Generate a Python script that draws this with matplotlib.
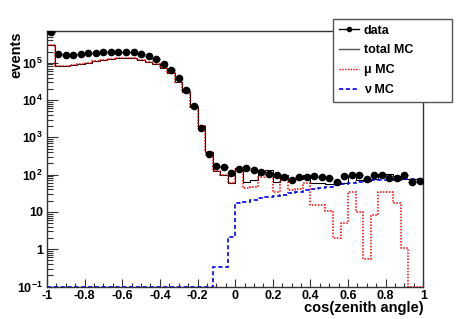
import numpy as np
import matplotlib
matplotlib.use('Agg')
import matplotlib.pyplot as plt
from matplotlib.lines import Line2D
from matplotlib.ticker import FixedLocator, FixedFormatter, MultipleLocator, LogLocator, NullFormatter

# ---------------- data ----------------
bin_edges = np.linspace(-1.0, 1.0, 51)

data = [6.6e5, 1.7e5, 1.6e5, 1.6e5, 1.68e5, 1.78e5, 1.85e5, 1.95e5, 2.0e5, 2.0e5,
        2.0e5, 1.9e5, 1.74e5, 1.48e5, 1.23e5, 9.4e4, 6.5e4, 3.8e4, 1.86e4, 6.9e3,
        1.74e3, 365, 174, 159, 114, 142, 154, 135, 118, 105,
        96, 88, 71, 87, 88, 92, 86, 79, 65, 90,
        95, 95, 74, 96, 99, 79, 79, 95, 64, 68]

total_mc = [3.0e5, 8.0e4, 8.2e4, 8.5e4, 9.0e4, 1.0e5, 1.08e5, 1.17e5, 1.25e5, 1.3e5,
            1.33e5, 1.3e5, 1.18e5, 1.07e5, 9.0e4, 7.4e4, 5.2e4, 3.1e4, 1.66e4, 6.6e3,
            2.0e3, 400, 127, 97, 60, 150, 65, 72, 118, 133,
            62, 98, 68, 78, 95, 59, 59, 55, 55, 61,
            92, 70, 68, 76, 105, 106, 90, 75, 74, 75]

mu_mc = [3.0e5, 8.0e4, 8.2e4, 8.5e4, 9.0e4, 1.0e5, 1.08e5, 1.17e5, 1.25e5, 1.3e5,
         1.33e5, 1.3e5, 1.18e5, 1.07e5, 9.0e4, 7.4e4, 5.2e4, 3.1e4, 1.66e4, 6.6e3,
         2.0e3, 400, 127, 97, 58, 135, 43, 48, 88, 108,
         34, 70, 38, 42, 59, 15, 15, 10.7, 1.95, 5.1,
         35, 10, 0.53, 8.3, 35, 35, 17, 1.05, 0, 0]

nu_mc = [0, 0, 0, 0, 0, 0, 0, 0, 0, 0,
         0, 0, 0, 0, 0, 0, 0, 0, 0, 0,
         0, 0, 0.34, 0.34, 2.1, 17, 19, 21, 23, 25,
         27, 28, 32, 35, 38, 42, 44, 48, 52, 56,
         60, 63, 67, 70, 71, 72, 73, 74, 74, 75]

legend_labels = ['data', 'total MC', 'μ MC', 'ν MC']
xtick_values = [-1, -0.8, -0.6, -0.4, -0.2, 0, 0.2, 0.4, 0.6, 0.8, 1]
xtick_labels = ['-1', '-0.8', '-0.6', '-0.4', '-0.2', '0', '0.2', '0.4', '0.6', '0.8', '1']
ytick_values = [0.1, 1, 10, 100, 1e3, 1e4, 1e5]
ytick_labels = [r'$10^{-1}$', '1', '10', r'$10^{2}$', r'$10^{3}$', r'$10^{4}$', r'$10^{5}$']

# ---------------- style ----------------
plt.rcParams['font.family'] = ['Liberation Sans', 'DejaVu Sans']
plt.rcParams['font.weight'] = 'bold'
plt.rcParams['mathtext.fontset'] = 'custom'
plt.rcParams['mathtext.rm'] = 'Liberation Sans:bold'
plt.rcParams['mathtext.bf'] = 'Liberation Sans:bold'
plt.rcParams['mathtext.it'] = 'Liberation Sans:bold'
plt.rcParams['mathtext.default'] = 'rm'

W, H = 471, 319
fig = plt.figure(figsize=(W / 100, H / 100), dpi=100)
ax_l, ax_r, ax_t, ax_b = 47, 423.3, 31, 286.5
ax = fig.add_axes([ax_l / W, 1 - ax_b / H, (ax_r - ax_l) / W, (ax_b - ax_t) / H])

ymin, ymax = 0.1, 7.1e5
ax.set_yscale('log')
ax.set_xlim(-1, 1)
ax.set_ylim(ymin, ymax)

def at_floor(v):
    return np.maximum(np.asarray(v, dtype=float), ymin)

ax.stairs(at_floor(total_mc), bin_edges, baseline=None, color='black', lw=0.8, zorder=2)
ax.stairs(at_floor(mu_mc), bin_edges, baseline=None, color='red', lw=1.1,
          linestyle=(0, (1, 1)), zorder=3)
ax.stairs(at_floor(nu_mc), bin_edges, baseline=None, color='blue', lw=1.2,
          linestyle=(0, (2.5, 1.6)), zorder=3)

centers = 0.5 * (bin_edges[:-1] + bin_edges[1:])
half_w = 0.5 * (bin_edges[1] - bin_edges[0])
ax.errorbar(centers, data, xerr=half_w, fmt='o', color='black', ms=4.5, lw=1.0,
            capsize=0, zorder=5)

# ticks
ax.xaxis.set_major_locator(FixedLocator(xtick_values))
ax.xaxis.set_major_formatter(FixedFormatter(xtick_labels))
ax.xaxis.set_minor_locator(MultipleLocator(0.05))
ax.yaxis.set_major_locator(FixedLocator(ytick_values))
ax.yaxis.set_major_formatter(FixedFormatter(ytick_labels))
ax.yaxis.set_minor_locator(LogLocator(base=10, subs=np.arange(2, 10), numticks=20))
ax.yaxis.set_minor_formatter(NullFormatter())

ax.tick_params(which='both', direction='in', top=False, right=False,
               labelsize=9, color='#333333', width=0.8)
ax.xaxis.set_tick_params(which='major', length=5.8, pad=2.5)
ax.xaxis.set_tick_params(which='minor', length=3.0)
ax.yaxis.set_tick_params(which='major', length=7.9, pad=2.9)
ax.yaxis.set_tick_params(which='minor', length=4.0)

for s in ax.spines.values():
    s.set_color('#333333')
    s.set_linewidth(1.0)

ax.set_xlabel('cos(zenith angle)', fontsize=10.5, fontweight='bold', loc='right')
ax.xaxis.set_label_coords(1.0, -0.057)
ax.set_ylabel('events', fontsize=10.5, fontweight='bold', loc='top')
ax.yaxis.set_label_coords(-0.064, 1.0)

handles = [
    Line2D([], [], color='black', marker='o', ms=3, lw=1.0),
    Line2D([], [], color='#555555', lw=1.0),
    Line2D([], [], color='red', lw=1.0, linestyle=(0, (1, 1))),
    Line2D([], [], color='blue', lw=1.2, linestyle=(0, (2.5, 1.6))),
]
leg = ax.legend(handles, legend_labels, loc='upper left',
                bbox_to_anchor=(333 / W, 1 - 99 / H, 119 / W, 80 / H),
                bbox_transform=fig.transFigure, mode='expand', borderaxespad=0,
                fontsize=9, frameon=True, fancybox=False, edgecolor='#555555',
                framealpha=1, handlelength=1.65, handletextpad=0.35,
                borderpad=0.45, labelspacing=0.62)
leg.get_frame().set_linewidth(1.0)
leg.set_zorder(10)

fig.savefig('out.png', dpi=100)
